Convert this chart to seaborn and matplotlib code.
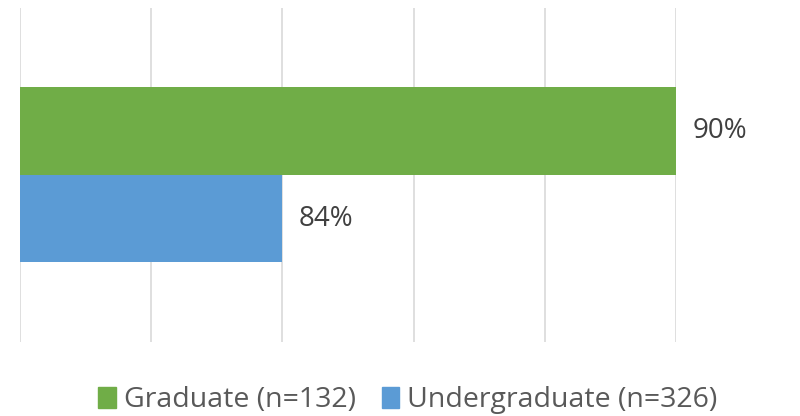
import matplotlib
matplotlib.use('Agg')
import matplotlib.pyplot as plt
import seaborn as sns
import pandas as pd

# data
groups = ['Graduate (n=132)', 'Undergraduate (n=326)']
values = [90, 84]
labels = ['90%', '84%']
colors = ['#70AD47', '#5B9BD5']

df = pd.DataFrame({'cat': ['all', 'all'], 'group': groups, 'value': values})

sns.set_theme(style='white')
plt.rcParams['font.family'] = ['Open Sans', 'DejaVu Sans']

fig = plt.figure(figsize=(8, 4.16), dpi=100)
ax = fig.add_axes([0.025, 0.178, 0.82, 0.803])

sns.barplot(data=df, y='cat', x='value', hue='group', orient='h',
            palette=colors, width=0.524, saturation=1, linewidth=0,
            ax=ax, legend=False)

ax.set_xlim(80, 90)
ax.set_ylim(0.5, -0.5)
ax.set_xticks([80, 82, 84, 86, 88, 90])
ax.grid(axis='x', color='#D9D9D9', linewidth=1.2)
ax.set_axisbelow(True)
ax.tick_params(left=False, bottom=False, labelleft=False, labelbottom=False)
for s in ax.spines.values():
    s.set_visible(False)
ax.set_xlabel('')
ax.set_ylabel('')

for cont, lab in zip(ax.containers, labels):
    txt = ax.bar_label(cont, labels=[lab], padding=12, fontsize=20, color='#404040', clip_on=False)
    for t in txt:
        t.set_va('center')
        t.set_y(t.get_position()[1])

handles = [plt.Rectangle((0, 0), 1, 1, color=c) for c in colors]
fig.legend(handles, groups, loc='center', bbox_to_anchor=(0.51, 0.038), ncol=2,
           frameon=False, fontsize=20.5, labelcolor='#595959',
           handlelength=0.6, handleheight=0.75, handletextpad=0.3, columnspacing=0.9)

fig.savefig('out.png', dpi=100)
